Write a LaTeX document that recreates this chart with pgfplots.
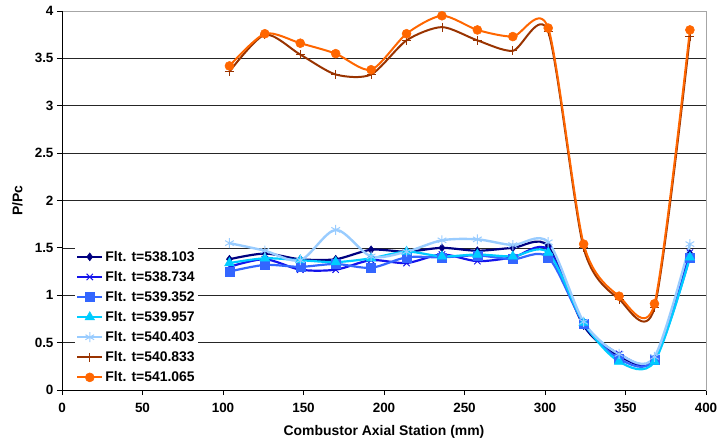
\documentclass[border=0pt]{standalone}
\usepackage{fontspec}
\setmainfont{Liberation Sans}
\usepackage{pgfplots}
\pgfplotsset{compat=1.18}

\definecolor{cNavy}{RGB}{0,0,128}
\definecolor{cBlue}{RGB}{20,20,235}
\definecolor{cMed}{RGB}{51,102,255}
\definecolor{cCyan}{RGB}{0,204,255}
\definecolor{cLight}{RGB}{153,204,255}
\definecolor{cBrown}{RGB}{153,51,0}
\definecolor{cOrange}{RGB}{255,102,0}

\begin{document}
\begin{tikzpicture}
\begin{axis}[
  scale only axis, width=644bp, height=379bp,
  xmin=0, xmax=400, ymin=0, ymax=4,
  xtick={0,50,...,400}, ytick={0,0.5,...,4},
  xtick pos=bottom, ytick pos=left, tick align=outside,
  major tick length=5bp,
  tick style={black, line width=0.8pt},
  ymajorgrids, grid style={black!85, line width=0.7pt},
  axis line style={gray!70, line width=0.8pt},
  /pgf/number format/assume math mode=true,
  tick label style={font=\bfseries\fontsize{13.5}{15}\selectfont},
  xticklabel style={yshift=-5bp},
  xlabel={Combustor Axial Station (mm)},
  ylabel={P/Pc},
  every axis x label/.style={at={(axis description cs:0.5,-0.111)}, anchor=center},
  every axis y label/.style={at={(axis description cs:-0.069,0.5)}, rotate=90, anchor=center},
  label style={font=\bfseries\fontsize{14}{16}\selectfont},
  legend style={at={(0.02,0.375)}, anchor=north west, draw=none, fill=white,
    font=\bfseries\fontsize{14}{16}\selectfont, row sep=4.5bp, inner sep=1pt},
  legend cell align=left,
  legend image code/.code={\draw[mark repeat=2,mark phase=2] plot coordinates {(0bp,0bp)(12.5bp,0bp)(25bp,0bp)};},
]
\draw[black, line width=0.8pt] (rel axis cs:0,1) -- (rel axis cs:0,0) -- (rel axis cs:1,0);

\addplot[cNavy, line width=2.2pt, smooth, mark=diamond*, mark size=4bp, mark options={solid, fill=cNavy, line width=0.5pt}] coordinates {
(104,1.38) (126,1.44) (148,1.38) (170,1.38) (192,1.48) (214,1.46) (236,1.50) (258,1.47) (280,1.50) (302,1.52) (324,0.68) (346,0.36) (368,0.33) (390,1.44)};
\addlegendentry{Flt. t=538.103}
\addplot[cBlue, line width=2.2pt, smooth, mark=x, mark size=4.5bp, mark options={solid, line width=1pt}] coordinates {
(104,1.30) (126,1.38) (148,1.27) (170,1.27) (192,1.37) (214,1.34) (236,1.43) (258,1.36) (280,1.40) (302,1.48) (324,0.70) (346,0.38) (368,0.33) (390,1.45)};
\addlegendentry{Flt. t=538.734}
\addplot[cMed, line width=2.2pt, smooth, mark=square*, mark size=4.5bp, mark options={solid, fill=cMed, line width=0.5pt}] coordinates {
(104,1.25) (126,1.32) (148,1.30) (170,1.33) (192,1.29) (214,1.40) (236,1.40) (258,1.42) (280,1.38) (302,1.40) (324,0.70) (346,0.33) (368,0.32) (390,1.40)};
\addlegendentry{Flt. t=539.352}
\addplot[cCyan, line width=2.2pt, smooth, mark=triangle*, mark size=5.5bp, mark options={solid, fill=cCyan, line width=0.5pt}] coordinates {
(104,1.34) (126,1.39) (148,1.37) (170,1.35) (192,1.39) (214,1.46) (236,1.41) (258,1.43) (280,1.41) (302,1.45) (324,0.71) (346,0.30) (368,0.30) (390,1.40)};
\addlegendentry{Flt. t=539.957}
\addplot[cLight, line width=2.4pt, smooth, mark=asterisk, mark size=5bp, mark options={solid, line width=1pt}] coordinates {
(104,1.55) (126,1.47) (148,1.37) (170,1.69) (192,1.41) (214,1.46) (236,1.58) (258,1.59) (280,1.53) (302,1.56) (324,0.72) (346,0.38) (368,0.35) (390,1.54)};
\addlegendentry{Flt. t=540.403}
\addplot[cBrown, line width=2pt, smooth, tension=0.45, mark=+, mark size=4.5bp, mark options={solid, line width=0.8pt}] coordinates {
(104,3.36) (126,3.75) (148,3.54) (170,3.33) (192,3.33) (214,3.69) (236,3.83) (258,3.69) (280,3.58) (302,3.78) (324,1.50) (346,0.96) (368,0.87) (390,3.73)};
\addlegendentry{Flt. t=540.833}
\addplot[cOrange, line width=2pt, smooth, tension=0.45, mark=*, mark size=4.5bp, mark options={solid, fill=cOrange, line width=0.5pt}] coordinates {
(104,3.42) (126,3.76) (148,3.66) (170,3.55) (192,3.38) (214,3.76) (236,3.95) (258,3.80) (280,3.73) (302,3.82) (324,1.54) (346,0.99) (368,0.91) (390,3.80)};
\addlegendentry{Flt. t=541.065}
\end{axis}
\pgfresetboundingbox
\path ([shift={(-62bp,-54bp)}]current axis.south west) rectangle ([shift={(13bp,11bp)}]current axis.north east);
\end{tikzpicture}
\end{document}
